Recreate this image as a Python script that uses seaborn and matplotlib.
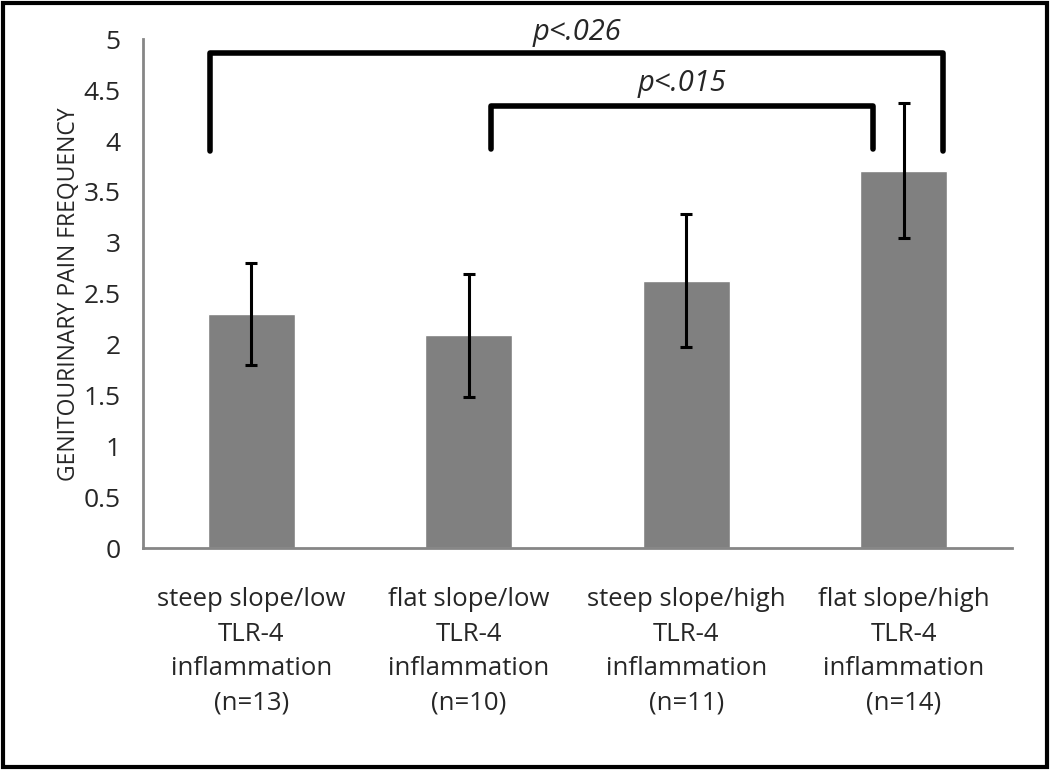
import seaborn as sns
import matplotlib.pyplot as plt
from matplotlib.patches import Rectangle

grupos = ['steep slope/low\nTLR-4\ninflammation\n(n=13)',
          'flat slope/low\nTLR-4\ninflammation\n(n=10)',
          'steep slope/high\nTLR-4\ninflammation\n(n=11)',
          'flat slope/high\nTLR-4\ninflammation\n(n=14)']
medias = [2.30, 2.09, 2.63, 3.71]
erros = [0.50, 0.60, 0.65, 0.66]

sns.set_style('white')
plt.rcParams['font.family'] = ['Open Sans', 'DejaVu Sans']

fig = plt.figure(figsize=(10.5, 7.7), dpi=100)
ax = fig.add_axes([0.136, 0.288, 0.828, 0.661])

sns.barplot(x=grupos, y=medias, color='#808080', saturation=1, width=0.4, ax=ax)
ax.errorbar(range(len(medias)), medias, yerr=erros, fmt='none', ecolor='black',
            elinewidth=2.2, capsize=4.5, capthick=2.2)

ax.set_xlim(-0.5, 3.5)
ax.set_ylim(0, 5)
ax.set_yticks([0, 0.5, 1, 1.5, 2, 2.5, 3, 3.5, 4, 4.5, 5])
ax.set_yticklabels(['0', '0.5', '1', '1.5', '2', '2.5', '3', '3.5', '4', '4.5', '5'])
ax.set_xticks([0, 1, 2, 3])
ax.set_xticklabels(grupos, linespacing=1.5)
ax.set_xticks([-0.5, 0.5, 1.5, 2.5, 3.5], minor=True)
ax.tick_params(axis='x', which='major', length=0, labelsize=18.5, pad=28)
ax.tick_params(axis='x', which='minor', length=8, color='#868686', width=2, direction='out')
ax.tick_params(axis='y', length=8, color='#868686', width=2, direction='out', labelsize=19, pad=8)
ax.set_ylabel('GENITOURINARY PAIN FREQUENCY', fontsize=16.5, labelpad=2)
for s in ['top', 'right']:
    ax.spines[s].set_visible(False)
for s in ['left', 'bottom']:
    ax.spines[s].set_color('#868686')
    ax.spines[s].set_linewidth(2)

# colchetes de significancia
ax.plot([-0.19, -0.19, 3.18, 3.18], [3.9, 4.87, 4.87, 3.9], color='black', lw=4, clip_on=False)
ax.plot([1.10, 1.10, 2.86, 2.86], [3.92, 4.34, 4.34, 3.92], color='black', lw=4, clip_on=False)
ax.text(1.5, 5.07, 'p<.026', style='italic', fontsize=21, ha='center', va='center')
ax.text(1.98, 4.57, 'p<.015', style='italic', fontsize=21, ha='center', va='center')

fig.patches.append(Rectangle((0.003, 0.004), 0.994, 0.992, transform=fig.transFigure,
                             fill=False, edgecolor='black', linewidth=3))

plt.savefig('out.png', dpi=100)
